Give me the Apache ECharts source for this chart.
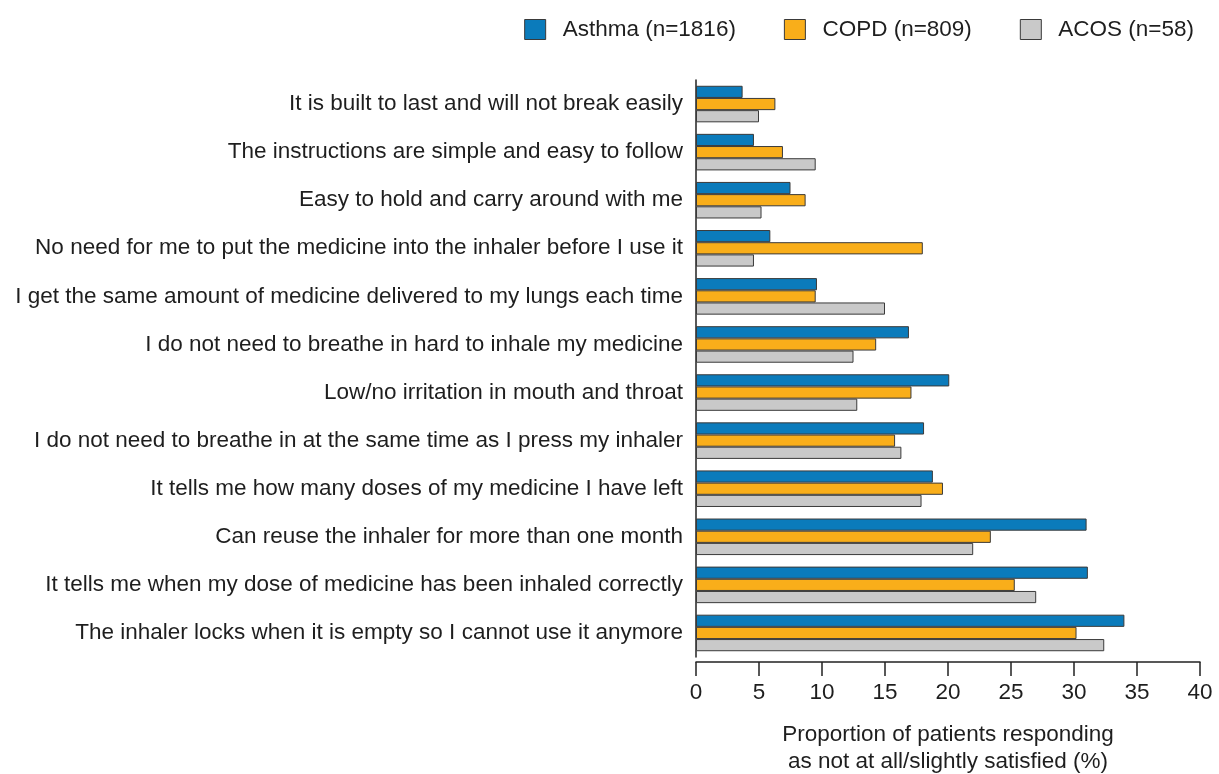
<!DOCTYPE html>
<html>
<head>
<meta charset="utf-8">
<script src="https://cdn.jsdelivr.net/npm/echarts@6/dist/echarts.min.js"></script>
<style>
  html, body { margin: 0; padding: 0; background: #fff; }
  #chart { width: 1219px; height: 774px; }
</style>
</head>
<body>
<div id="chart"></div>
<script>
  var categories = [
    'It is built to last and will not break easily',
    'The instructions are simple and easy to follow',
    'Easy to hold and carry around with me',
    'No need for me to put the medicine into the inhaler before I use it',
    'I get the same amount of medicine delivered to my lungs each time',
    'I do not need to breathe in hard to inhale my medicine',
    'Low/no irritation in mouth and throat',
    'I do not need to breathe in at the same time as I press my inhaler',
    'It tells me how many doses of my medicine I have left',
    'Can reuse the inhaler for more than one month',
    'It tells me when my dose of medicine has been inhaled correctly',
    'The inhaler locks when it is empty so I cannot use it anymore'
  ]
  var asthma = [3.7, 4.6, 7.5, 5.9, 9.6, 16.9, 20.1, 18.1, 18.8, 31.0, 31.1, 34.0]
  var copd = [6.3, 6.9, 8.7, 18.0, 9.5, 14.3, 17.1, 15.8, 19.6, 23.4, 25.3, 30.2]
  var acos = [5.0, 9.5, 5.2, 4.6, 15.0, 12.5, 12.8, 16.3, 17.9, 22.0, 27.0, 32.4]
  var seriesNames = ['Asthma (n=1816)', 'COPD (n=809)', 'ACOS (n=58)']
  var xTicks = [0, 5, 10, 15, 20, 25, 30, 35, 40]

  var font = "'Liberation Sans', Arial, sans-serif"
  var colors = ['#0b7bbb', '#f9ae1a', '#c9c9c9']
  var ink = '#1e1e1e'

  var myChart = echarts.init(document.getElementById('chart'))

  function barSeries(name, data, color) {
    return {
      name: name,
      type: 'bar',
      data: data,
      barGap: '0%',
      barCategoryGap: '24%',
      itemStyle: {
        color: color,
        borderColor: '#3a3a3a',
        borderWidth: 1
      },
      animation: false
    }
  }

  var option = {
    backgroundColor: '#fff',
    textStyle: { fontFamily: font },
    legend: {
      data: seriesNames,
      icon: 'rect',
      right: 20,
      top: 13,
      itemWidth: 21,
      itemHeight: 20,
      itemGap: 48,
      textStyle: {
        fontFamily: font,
        fontSize: 22.5,
        color: ink,
        padding: [0, 0, 0, 12]
      },
      itemStyle: { borderColor: '#3a3a3a', borderWidth: 1 }
    },
    grid: {
      left: 696,
      right: 19,
      top: 80,
      bottom: 117,
      outerBoundsMode: 'none'
    },
    xAxis: {
      type: 'value',
      min: xTicks[0],
      max: xTicks[xTicks.length - 1],
      interval: 5,
      offset: 5,
      name: 'Proportion of patients responding\nas not at all/slightly satisfied (%)',
      nameLocation: 'middle',
      nameGap: 59,
      nameTextStyle: {
        fontFamily: font,
        fontSize: 22.5,
        color: ink,
        lineHeight: 27
      },
      axisLine: { show: true, lineStyle: { color: '#222', width: 1.5 } },
      axisTick: { show: true, length: 14, lineStyle: { color: '#222', width: 1.5 } },
      axisLabel: {
        fontFamily: font,
        fontSize: 22.5,
        color: ink,
        margin: 19
      },
      splitLine: { show: false }
    },
    yAxis: {
      type: 'category',
      data: categories,
      inverse: true,
      axisLine: { show: true, lineStyle: { color: '#222', width: 1.5 } },
      axisTick: { show: false },
      axisLabel: {
        fontFamily: font,
        fontSize: 22.5,
        color: ink,
        margin: 13
      }
    },
    series: [
      barSeries(seriesNames[0], asthma, colors[0]),
      barSeries(seriesNames[1], copd, colors[1]),
      barSeries(seriesNames[2], acos, colors[2])
    ]
  }
  myChart.setOption(option)
</script>
</body>
</html>
